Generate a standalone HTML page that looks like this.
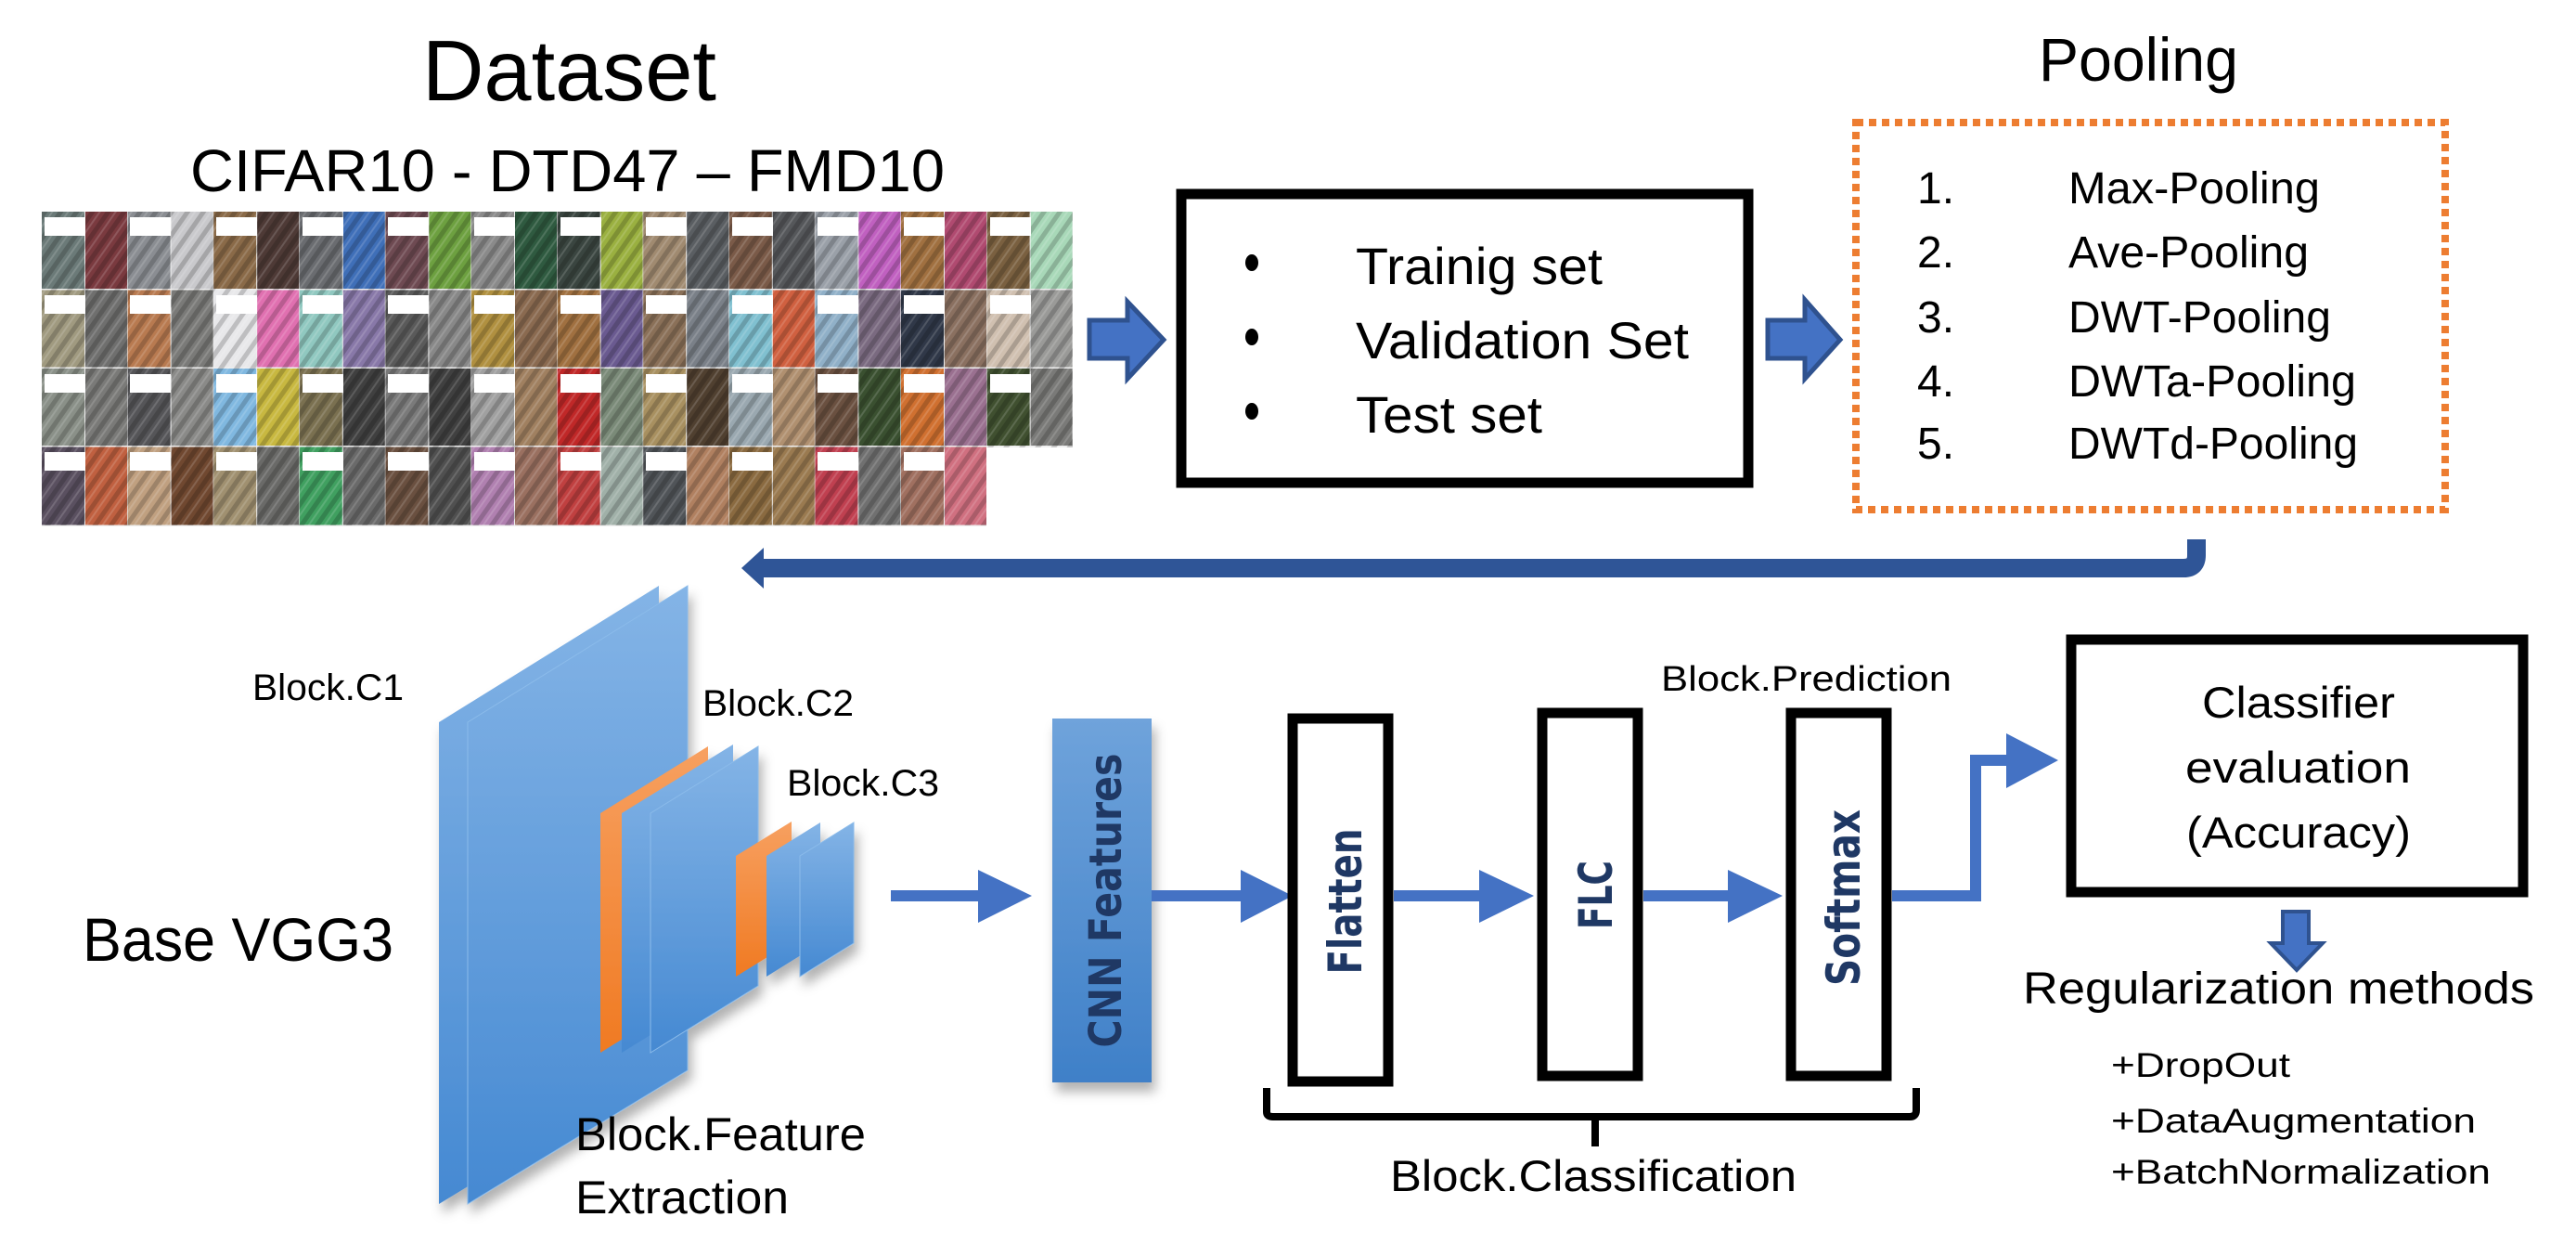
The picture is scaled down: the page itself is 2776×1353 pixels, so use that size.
<!DOCTYPE html>
<html><head><meta charset="utf-8"><style>
html,body{margin:0;padding:0;background:#fff;}
svg{display:block;}
text{font-family:"Liberation Sans",sans-serif;fill:#000;}
.rt{font-family:"DejaVu Sans","Liberation Sans",sans-serif;fill:#1F3864;font-weight:bold;}
</style></head><body>
<svg width="2776" height="1353" viewBox="0 0 2776 1353" xmlns="http://www.w3.org/2000/svg">
<defs>
<linearGradient id="bl" x1="0" y1="0" x2="0" y2="1"><stop offset="0" stop-color="#84B4E6"/><stop offset="1" stop-color="#4589D2"/></linearGradient>
<linearGradient id="or" x1="0" y1="0" x2="0" y2="1"><stop offset="0" stop-color="#F7A060"/><stop offset="1" stop-color="#F07A22"/></linearGradient>
<linearGradient id="cnn" x1="0" y1="0" x2="0" y2="1"><stop offset="0" stop-color="#6FA3DB"/><stop offset="1" stop-color="#3F80C8"/></linearGradient>
<filter id="sh" x="-20%" y="-20%" width="140%" height="140%"><feDropShadow dx="4" dy="10" stdDeviation="6" flood-color="#000" flood-opacity="0.3"/></filter>
<pattern id="tex" width="14" height="14" patternUnits="userSpaceOnUse" patternTransform="rotate(35)"><rect width="14" height="14" fill="none"/><rect width="5" height="14" fill="#000" opacity="0.18"/><rect x="8" width="2" height="14" fill="#fff" opacity="0.15"/></pattern>
</defs>

<!-- Titles -->
<text x="455" y="108" font-size="93" textLength="317" lengthAdjust="spacingAndGlyphs">Dataset</text>
<text x="205" y="206" font-size="64" textLength="813" lengthAdjust="spacingAndGlyphs">CIFAR10 - DTD47 – FMD10</text>
<text x="2197" y="87" font-size="66" textLength="215" lengthAdjust="spacingAndGlyphs">Pooling</text>

<!-- Texture grid -->
<rect x="45" y="228" width="1111" height="254" fill="#eee"/>
<rect x="45" y="482" width="1018" height="85" fill="#eee"/>
<g>
<!-- row 1 -->
<g transform="translate(45,228)"><rect width="46" height="83" fill="#6b7a78"/><rect x="47" width="45" height="83" fill="#7a3a3f"/></g>
<g transform="translate(137.6,228)"><rect width="46" height="83" fill="#8a8d92"/><rect x="47" width="45" height="83" fill="#c9c9cc"/></g>
<g transform="translate(230.2,228)"><rect width="46" height="83" fill="#8a6a48"/><rect x="47" width="45" height="83" fill="#4e3a36"/></g>
<g transform="translate(322.8,228)"><rect width="46" height="83" fill="#6a6c70"/><rect x="47" width="45" height="83" fill="#3f6fb8"/></g>
<g transform="translate(415.4,228)"><rect width="46" height="83" fill="#6e4a52"/><rect x="47" width="45" height="83" fill="#6da040"/></g>
<g transform="translate(508,228)"><rect width="46" height="83" fill="#8a8a8a"/><rect x="47" width="45" height="83" fill="#2f5a40"/></g>
<g transform="translate(600.6,228)"><rect width="46" height="83" fill="#3a4540"/><rect x="47" width="45" height="83" fill="#9ab040"/></g>
<g transform="translate(693.2,228)"><rect width="46" height="83" fill="#a08a70"/><rect x="47" width="45" height="83" fill="#5a5e62"/></g>
<g transform="translate(785.8,228)"><rect width="46" height="83" fill="#7a5a48"/><rect x="47" width="45" height="83" fill="#55575a"/></g>
<g transform="translate(878.4,228)"><rect width="46" height="83" fill="#9aa0a8"/><rect x="47" width="45" height="83" fill="#c060c0"/></g>
<g transform="translate(971,228)"><rect width="46" height="83" fill="#a07040"/><rect x="47" width="45" height="83" fill="#b04a70"/></g>
<g transform="translate(1063.6,228)"><rect width="46" height="83" fill="#7a6040"/><rect x="47" width="45" height="83" fill="#a8d8b8"/></g>
<!-- row 2 -->
<g transform="translate(45,312.5)"><rect width="46" height="83" fill="#a09a80"/><rect x="47" width="45" height="83" fill="#6f6f6e"/></g>
<g transform="translate(137.6,312.5)"><rect width="46" height="83" fill="#b87a50"/><rect x="47" width="45" height="83" fill="#7a7a78"/></g>
<g transform="translate(230.2,312.5)"><rect width="46" height="83" fill="#e8e8ea"/><rect x="47" width="45" height="83" fill="#e070b0"/></g>
<g transform="translate(322.8,312.5)"><rect width="46" height="83" fill="#90c8c0"/><rect x="47" width="45" height="83" fill="#8878a8"/></g>
<g transform="translate(415.4,312.5)"><rect width="46" height="83" fill="#5a5a5a"/><rect x="47" width="45" height="83" fill="#888888"/></g>
<g transform="translate(508,312.5)"><rect width="46" height="83" fill="#b09040"/><rect x="47" width="45" height="83" fill="#8a6a50"/></g>
<g transform="translate(600.6,312.5)"><rect width="46" height="83" fill="#a07040"/><rect x="47" width="45" height="83" fill="#6a5a90"/></g>
<g transform="translate(693.2,312.5)"><rect width="46" height="83" fill="#8a7058"/><rect x="47" width="45" height="83" fill="#7a8088"/></g>
<g transform="translate(785.8,312.5)"><rect width="46" height="83" fill="#80c0d0"/><rect x="47" width="45" height="83" fill="#d06040"/></g>
<g transform="translate(878.4,312.5)"><rect width="46" height="83" fill="#90b0c8"/><rect x="47" width="45" height="83" fill="#7a6a80"/></g>
<g transform="translate(971,312.5)"><rect width="46" height="83" fill="#303848"/><rect x="47" width="45" height="83" fill="#8a7060"/></g>
<g transform="translate(1063.6,312.5)"><rect width="46" height="83" fill="#d0c0b0"/><rect x="47" width="45" height="83" fill="#9a9a98"/></g>
<!-- row 3 -->
<g transform="translate(45,397)"><rect width="46" height="83" fill="#8a9088"/><rect x="47" width="45" height="83" fill="#7a7a78"/></g>
<g transform="translate(137.6,397)"><rect width="46" height="83" fill="#555558"/><rect x="47" width="45" height="83" fill="#8a8a88"/></g>
<g transform="translate(230.2,397)"><rect width="46" height="83" fill="#80b8e0"/><rect x="47" width="45" height="83" fill="#c8b840"/></g>
<g transform="translate(322.8,397)"><rect width="46" height="83" fill="#7a7050"/><rect x="47" width="45" height="83" fill="#404040"/></g>
<g transform="translate(415.4,397)"><rect width="46" height="83" fill="#7a7a7a"/><rect x="47" width="45" height="83" fill="#404040"/></g>
<g transform="translate(508,397)"><rect width="46" height="83" fill="#a0a0a0"/><rect x="47" width="45" height="83" fill="#a08060"/></g>
<g transform="translate(600.6,397)"><rect width="46" height="83" fill="#c02828"/><rect x="47" width="45" height="83" fill="#7a8a78"/></g>
<g transform="translate(693.2,397)"><rect width="46" height="83" fill="#a89060"/><rect x="47" width="45" height="83" fill="#504030"/></g>
<g transform="translate(785.8,397)"><rect width="46" height="83" fill="#9aa8b0"/><rect x="47" width="45" height="83" fill="#b09070"/></g>
<g transform="translate(878.4,397)"><rect width="46" height="83" fill="#6a5040"/><rect x="47" width="45" height="83" fill="#3a5030"/></g>
<g transform="translate(971,397)"><rect width="46" height="83" fill="#d07030"/><rect x="47" width="45" height="83" fill="#9a7090"/></g>
<g transform="translate(1063.6,397)"><rect width="46" height="83" fill="#405030"/><rect x="47" width="45" height="83" fill="#7a7a78"/></g>
<!-- row 4 -->
<g transform="translate(45,481.5)"><rect width="46" height="84" fill="#5a5060"/><rect x="47" width="45" height="84" fill="#c06040"/></g>
<g transform="translate(137.6,481.5)"><rect width="46" height="84" fill="#c0a080"/><rect x="47" width="45" height="84" fill="#704830"/></g>
<g transform="translate(230.2,481.5)"><rect width="46" height="84" fill="#a09070"/><rect x="47" width="45" height="84" fill="#6a6a68"/></g>
<g transform="translate(322.8,481.5)"><rect width="46" height="84" fill="#40a060"/><rect x="47" width="45" height="84" fill="#6a6a6a"/></g>
<g transform="translate(415.4,481.5)"><rect width="46" height="84" fill="#6a5040"/><rect x="47" width="45" height="84" fill="#505050"/></g>
<g transform="translate(508,481.5)"><rect width="46" height="84" fill="#b080b0"/><rect x="47" width="45" height="84" fill="#9a7060"/></g>
<g transform="translate(600.6,481.5)"><rect width="46" height="84" fill="#c04040"/><rect x="47" width="45" height="84" fill="#a0b0a8"/></g>
<g transform="translate(693.2,481.5)"><rect width="46" height="84" fill="#505458"/><rect x="47" width="45" height="84" fill="#b08060"/></g>
<g transform="translate(785.8,481.5)"><rect width="46" height="84" fill="#8a6a40"/><rect x="47" width="45" height="84" fill="#9a7a50"/></g>
<g transform="translate(878.4,481.5)"><rect width="46" height="84" fill="#c04050"/><rect x="47" width="45" height="84" fill="#707070"/></g>
<g transform="translate(971,481.5)"><rect width="46" height="84" fill="#a07060"/><rect x="47" width="45" height="84" fill="#d07080"/></g>
</g>
<rect x="45" y="228" width="1111" height="254" fill="url(#tex)"/>
<rect x="45" y="482" width="1018" height="84" fill="url(#tex)"/>
<g fill="#fff">
<rect x="48" y="234" width="44" height="20"/><rect x="140" y="234" width="44" height="20"/><rect x="233" y="234" width="44" height="20"/><rect x="326" y="234" width="44" height="20"/><rect x="418" y="234" width="44" height="20"/><rect x="511" y="234" width="44" height="20"/><rect x="604" y="234" width="44" height="20"/><rect x="696" y="234" width="44" height="20"/><rect x="789" y="234" width="44" height="20"/><rect x="881" y="234" width="44" height="20"/><rect x="974" y="234" width="44" height="20"/><rect x="1067" y="234" width="44" height="20"/>
<rect x="48" y="318" width="44" height="20"/><rect x="140" y="318" width="44" height="20"/><rect x="233" y="318" width="44" height="20"/><rect x="326" y="318" width="44" height="20"/><rect x="418" y="318" width="44" height="20"/><rect x="511" y="318" width="44" height="20"/><rect x="604" y="318" width="44" height="20"/><rect x="696" y="318" width="44" height="20"/><rect x="789" y="318" width="44" height="20"/><rect x="881" y="318" width="44" height="20"/><rect x="974" y="318" width="44" height="20"/><rect x="1067" y="318" width="44" height="20"/>
<rect x="48" y="403" width="44" height="20"/><rect x="140" y="403" width="44" height="20"/><rect x="233" y="403" width="44" height="20"/><rect x="326" y="403" width="44" height="20"/><rect x="418" y="403" width="44" height="20"/><rect x="511" y="403" width="44" height="20"/><rect x="604" y="403" width="44" height="20"/><rect x="696" y="403" width="44" height="20"/><rect x="789" y="403" width="44" height="20"/><rect x="881" y="403" width="44" height="20"/><rect x="974" y="403" width="44" height="20"/><rect x="1067" y="403" width="44" height="20"/>
<rect x="48" y="487" width="44" height="20"/><rect x="140" y="487" width="44" height="20"/><rect x="233" y="487" width="44" height="20"/><rect x="326" y="487" width="44" height="20"/><rect x="418" y="487" width="44" height="20"/><rect x="511" y="487" width="44" height="20"/><rect x="604" y="487" width="44" height="20"/><rect x="696" y="487" width="44" height="20"/><rect x="789" y="487" width="44" height="20"/><rect x="881" y="487" width="44" height="20"/><rect x="974" y="487" width="44" height="20"/>
</g>

<!-- Fat arrows -->
<polygon points="1174,345 1215,345 1215,325 1254,366 1215,408 1215,386 1174,386" fill="#4472C4" stroke="#2F528F" stroke-width="5"/>
<polygon points="1905,345 1945,345 1945,323 1983,366 1945,408 1945,386 1905,386" fill="#4472C4" stroke="#2F528F" stroke-width="5"/>

<!-- Training box -->
<rect x="1273" y="209" width="611" height="311" fill="#fff" stroke="#000" stroke-width="11"/>
<ellipse cx="1349" cy="283" rx="7" ry="9"/><ellipse cx="1349" cy="363" rx="7" ry="9"/><ellipse cx="1349" cy="443" rx="7" ry="9"/>
<text x="1461" y="306" font-size="56" textLength="266" lengthAdjust="spacingAndGlyphs">Trainig set</text>
<text x="1461" y="386" font-size="56" textLength="359" lengthAdjust="spacingAndGlyphs">Validation Set</text>
<text x="1461" y="466" font-size="56" textLength="201" lengthAdjust="spacingAndGlyphs">Test set</text>

<!-- Pooling box -->
<rect x="2000" y="132" width="635" height="417" fill="none" stroke="#ED7D31" stroke-width="8" stroke-dasharray="8 6"/>
<g font-size="48">
<text x="2066" y="219">1.</text><text x="2229" y="219" textLength="271" lengthAdjust="spacingAndGlyphs">Max-Pooling</text>
<text x="2066" y="288">2.</text><text x="2229" y="288" textLength="259" lengthAdjust="spacingAndGlyphs">Ave-Pooling</text>
<text x="2066" y="358">3.</text><text x="2229" y="358" textLength="283" lengthAdjust="spacingAndGlyphs">DWT-Pooling</text>
<text x="2066" y="427">4.</text><text x="2229" y="427" textLength="310" lengthAdjust="spacingAndGlyphs">DWTa-Pooling</text>
<text x="2066" y="494">5.</text><text x="2229" y="494" textLength="312" lengthAdjust="spacingAndGlyphs">DWTd-Pooling</text>
</g>

<!-- Return arrow -->
<path d="M2367 581 L2367 598 Q2367 612 2353 612 L815 612" fill="none" stroke="#2F5597" stroke-width="20"/>
<polygon points="799,612 823,590 823,634" fill="#2F5597"/>

<!-- VGG planes -->
<g filter="url(#sh)">
<polygon points="473,778 710,631 710,1153 473,1297" fill="url(#bl)"/>
<polygon points="504,778 741,631 741,1153 504,1297" fill="url(#bl)" stroke="#8BBBEA" stroke-width="1"/>
<polygon points="647,876 763,804 763,1062 647,1134" fill="url(#or)"/>
<polygon points="670,876 790,802 790,1060 670,1134" fill="url(#bl)"/>
<polygon points="701,876 817,804 817,1062 701,1134" fill="url(#bl)" stroke="#8BBBEA" stroke-width="1"/>
<polygon points="793,922 853,885 853,1015 793,1052" fill="url(#or)"/>
<polygon points="826,922 884,886 884,1016 826,1052" fill="url(#bl)"/>
<polygon points="862,922 920,886 920,1016 862,1052" fill="url(#bl)" stroke="#8BBBEA" stroke-width="1"/>
</g>
<text x="272" y="754" font-size="40" textLength="163" lengthAdjust="spacingAndGlyphs">Block.C1</text>
<text x="757" y="771" font-size="40" textLength="163" lengthAdjust="spacingAndGlyphs">Block.C2</text>
<text x="848" y="857" font-size="40" textLength="164" lengthAdjust="spacingAndGlyphs">Block.C3</text>
<text x="89" y="1035" font-size="66" textLength="335" lengthAdjust="spacingAndGlyphs">Base VGG3</text>
<text x="620" y="1239" font-size="50" textLength="313" lengthAdjust="spacingAndGlyphs">Block.Feature</text>
<text x="620" y="1307" font-size="50" textLength="230" lengthAdjust="spacingAndGlyphs">Extraction</text>

<!-- CNN Features -->
<rect x="1134" y="774" width="107" height="392" fill="url(#cnn)" filter="url(#sh)"/>
<text class="rt" transform="translate(1208,970) rotate(-90)" text-anchor="middle" font-size="48" textLength="317" lengthAdjust="spacingAndGlyphs">CNN Features</text>

<!-- Blue arrows -->
<g fill="#4472C4">
<rect x="960" y="959" width="96" height="12"/><polygon points="1054,937 1112,965 1054,994"/>
<rect x="1241" y="959" width="98" height="12"/><polygon points="1337,937 1393,965 1337,994"/>
<rect x="1502" y="959" width="94" height="12"/><polygon points="1594,937 1653,965 1594,994"/>
<rect x="1771" y="959" width="93" height="12"/><polygon points="1862,937 1921,965 1862,994"/>
<path d="M2039 959 L2123 959 L2123 813 L2164 813 L2164 825 L2135 825 L2135 971 L2039 971 Z"/>
<polygon points="2162,790 2218,819 2162,849"/>
</g>

<!-- Classification boxes -->
<rect x="1393" y="774" width="103" height="391" fill="#fff" stroke="#000" stroke-width="11"/>
<rect x="1662" y="768" width="103" height="391" fill="#fff" stroke="#000" stroke-width="11"/>
<rect x="1930" y="768" width="103" height="391" fill="#fff" stroke="#000" stroke-width="11"/>
<text class="rt" transform="translate(1467,971) rotate(-90)" text-anchor="middle" font-size="50" textLength="157" lengthAdjust="spacingAndGlyphs">Flatten</text>
<text class="rt" transform="translate(1737,964) rotate(-90)" text-anchor="middle" font-size="50" textLength="74" lengthAdjust="spacingAndGlyphs">FLC</text>
<text class="rt" transform="translate(2004,967) rotate(-90)" text-anchor="middle" font-size="50" textLength="190" lengthAdjust="spacingAndGlyphs">Softmax</text>
<text x="1790" y="744" font-size="38" textLength="313" lengthAdjust="spacingAndGlyphs">Block.Prediction</text>

<!-- Brace -->
<path d="M1365 1172 L1365 1198 Q1365 1203 1372 1203 L2058 1203 Q2065 1203 2065 1196 L2065 1172" fill="none" stroke="#000" stroke-width="8"/>
<rect x="1715" y="1200" width="8" height="35" fill="#000"/>
<text x="1498" y="1283" font-size="47" textLength="438" lengthAdjust="spacingAndGlyphs">Block.Classification</text>

<!-- Classifier box -->
<rect x="2232" y="689" width="487" height="272" fill="#fff" stroke="#000" stroke-width="11"/>
<text x="2373" y="773" font-size="47" textLength="208" lengthAdjust="spacingAndGlyphs">Classifier</text>
<text x="2355" y="843" font-size="47" textLength="243" lengthAdjust="spacingAndGlyphs">evaluation</text>
<text x="2356" y="913" font-size="47" textLength="242" lengthAdjust="spacingAndGlyphs">(Accuracy)</text>

<!-- Down arrow -->
<polygon points="2460,982 2488,982 2488,1016 2503,1016 2475,1045 2447,1016 2460,1016" fill="#4472C4" stroke="#2F528F" stroke-width="4"/>
<text x="2180" y="1081" font-size="48" textLength="551" lengthAdjust="spacingAndGlyphs">Regularization methods</text>
<text x="2275" y="1160" font-size="37" textLength="193" lengthAdjust="spacingAndGlyphs">+DropOut</text>
<text x="2275" y="1220" font-size="37" textLength="393" lengthAdjust="spacingAndGlyphs">+DataAugmentation</text>
<text x="2275" y="1275" font-size="37" textLength="409" lengthAdjust="spacingAndGlyphs">+BatchNormalization</text>
</svg>
</body></html>
